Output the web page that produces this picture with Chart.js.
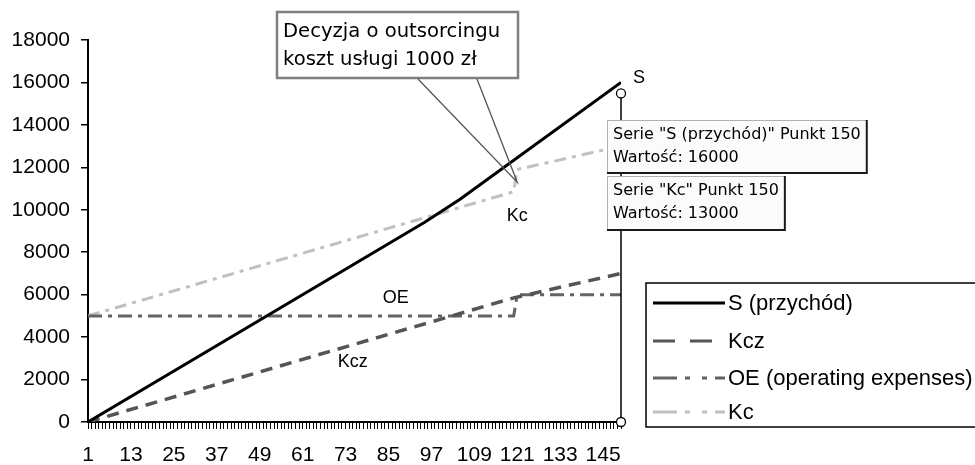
<!DOCTYPE html>
<html><head><meta charset="utf-8">
<script src="https://cdn.jsdelivr.net/npm/chart.js@4.4.1/dist/chart.umd.min.js"></script>
<style>html,body{margin:0;padding:0;background:#fff;} canvas{display:block;}</style>
</head><body>
<canvas id="c" width="975" height="465"></canvas>
<script>
// ---- data ----
const xTickLabels = [1, 13, 25, 37, 49, 61, 73, 85, 97, 109, 121, 133, 145];
const yTickLabels = [0, 2000, 4000, 6000, 8000, 10000, 12000, 14000, 16000, 18000];
const seriesNames = ['S (przychód)', 'Kcz', 'OE (operating expenses)', 'Kc'];
const sX   = [1, 95, 105, 150];
const sY   = [0, 9400, 10500, 16000];
const kczX = [1, 120, 150];
const kczY = [0, 5850, 7000];
const oeX  = [1, 120, 121, 150];
const oeY  = [5000, 5000, 6000, 6000];
const kcX  = [1, 120, 121, 150];
const kcY  = [5000, 10850, 11900, 13000];
const lastPoint = 150;
const tipS = {name: 'S (przychód)', value: 16000};
const tipKc = {name: 'Kc', value: 13000};
const calloutText = ['Decyzja o outsorcingu', 'koszt usługi 1000 zł'];

const pts = (xs, ys) => xs.map((x, i) => ({x: x, y: ys[i]}));
const FONT = "'Liberation Sans', Arial, sans-serif";
const TFONT = "'DejaVu Sans', Verdana, sans-serif";

const styles = [
  {color: '#000000', width: 3, dash: [], legendDash: []},
  {color: '#555555', width: 3.5, dash: [12, 8], legendDash: [22, 15]},
  {color: '#646464', width: 3, dash: [14, 6, 4, 6], legendDash: [24, 8, 5, 12, 5, 8]},
  {color: '#c0c0c0', width: 3, dash: [12, 6, 4, 6], legendDash: [24, 8, 5, 12, 5, 8]}
];
const seriesData = [pts(sX, sY), pts(kczX, kczY), pts(oeX, oeY), pts(kcX, kcY)];

const overlay = {
  id: 'overlay',
  afterDraw(chart) {
    const c = chart.ctx, xs = chart.scales.x, ys = chart.scales.y;
    const px = xs.getPixelForValue(lastPoint);
    c.save();
    // in-chart labels
    c.fillStyle = '#000';
    c.font = '18px ' + FONT;
    c.textAlign = 'center'; c.textBaseline = 'middle';
    c.fillText('S', px + 18, ys.getPixelForValue(16200));
    c.fillText('Kc', xs.getPixelForValue(121), ys.getPixelForValue(9700));
    c.fillText('Kcz', xs.getPixelForValue(75), ys.getPixelForValue(2820));
    c.fillText('OE', xs.getPixelForValue(87), ys.getPixelForValue(5850));

    // selection line + handles
    const yTop = ys.getPixelForValue(16000) + 11;
    const y0 = ys.getPixelForValue(0);
    c.strokeStyle = '#000'; c.lineWidth = 1.5; c.setLineDash([]);
    c.beginPath(); c.moveTo(px, yTop); c.lineTo(px, y0); c.stroke();
    [yTop, y0].forEach(yy => {
      c.beginPath(); c.arc(px, yy, 4.5, 0, Math.PI * 2);
      c.fillStyle = '#fff'; c.fill(); c.lineWidth = 1.3; c.stroke();
    });

    // tooltips
    const drawTip = (x, y, lines, h) => {
      c.font = '16px ' + TFONT;
      const w = Math.max(...lines.map(l => c.measureText(l).width)) + 12;
      c.fillStyle = '#fbfbfb'; c.fillRect(x, y, w, h);
      c.strokeStyle = '#b0b0b0'; c.lineWidth = 1;
      c.beginPath(); c.moveTo(x + 0.5, y + h); c.lineTo(x + 0.5, y + 0.5); c.lineTo(x + w, y + 0.5); c.stroke();
      c.strokeStyle = '#1a1a1a'; c.lineWidth = 2;
      c.beginPath(); c.moveTo(x + w, y); c.lineTo(x + w, y + h); c.lineTo(x, y + h); c.stroke();
      c.fillStyle = '#000'; c.textAlign = 'left'; c.textBaseline = 'middle';
      c.fillText(lines[0], x + 6, y + 15);
      c.fillText(lines[1], x + 6, y + 38);
    };
    const tx = px - 14;
    drawTip(tx, 120, ['Serie "' + tipS.name + '" Punkt ' + lastPoint, 'Wartość: ' + tipS.value], 53);
    drawTip(tx, 176, ['Serie "' + tipKc.name + '" Punkt ' + lastPoint, 'Wartość: ' + tipKc.value], 54);

    // callout
    const tipX = xs.getPixelForValue(121), tipY = ys.getPixelForValue(11300);
    c.fillStyle = '#fff';
    c.fillRect(277, 12, 241, 66);
    c.strokeStyle = '#7f7f7f'; c.lineWidth = 2.5;
    c.strokeRect(277, 12, 241, 66);
    c.strokeStyle = '#555'; c.lineWidth = 1.3;
    c.beginPath(); c.moveTo(418, 79); c.lineTo(tipX, tipY); c.lineTo(477, 79); c.stroke();
    c.fillStyle = '#000'; c.font = '19.6px ' + TFONT; c.textAlign = 'left'; c.textBaseline = 'alphabetic';
    c.fillText(calloutText[0], 283, 37);
    c.fillText(calloutText[1], 283, 65);

    // legend
    c.strokeStyle = '#000'; c.lineWidth = 1.5; c.setLineDash([]);
    c.strokeRect(646, 283, 340, 144);
    const rows = [303, 341, 378, 412];
    seriesNames.forEach((n, i) => {
      const st = styles[i];
      c.strokeStyle = st.color; c.lineWidth = 3; c.setLineDash(st.legendDash);
      c.beginPath(); c.moveTo(653, rows[i]); c.lineTo(725, rows[i]); c.stroke();
      c.setLineDash([]);
      c.fillStyle = '#000'; c.font = '22px ' + FONT; c.textAlign = 'left'; c.textBaseline = 'middle';
      c.fillText(n, 728, rows[i] + 1);
    });
    c.restore();
  }
};

new Chart(document.getElementById('c').getContext('2d'), {
  type: 'line',
  data: {
    datasets: seriesNames.map((n, i) => ({
      label: n, data: seriesData[i],
      borderColor: styles[i].color, borderWidth: styles[i].width, borderDash: styles[i].dash,
      pointRadius: 0, tension: 0, fill: false, borderCapStyle: 'butt'
    }))
  },
  options: {
    responsive: false, animation: false,
    layout: {padding: {left: 0, top: 40, right: 354, bottom: 0}},
    plugins: {legend: {display: false}, tooltip: {enabled: false}},
    scales: {
      x: {
        type: 'linear', min: 1, max: lastPoint,
        afterBuildTicks: s => { const t = []; for (let v = 1; v <= lastPoint; v++) t.push({value: v}); s.ticks = t; },
        afterFit: s => { s.height = 43; },
        grid: {drawOnChartArea: false, drawTicks: true, tickLength: 7, color: '#000', lineWidth: 1},
        border: {color: '#000', width: 2},
        ticks: {autoSkip: false, maxRotation: 0, minRotation: 0, padding: 14, color: '#000',
          font: {family: FONT, size: 21},
          callback: v => xTickLabels.includes(v) ? String(v) : ''}
      },
      y: {
        min: 0, max: 18000,
        afterBuildTicks: s => { s.ticks = yTickLabels.map(v => ({value: v})); },
        afterFit: s => { s.width = 88; },
        grid: {drawOnChartArea: false, drawTicks: true, tickLength: 7, color: '#000', lineWidth: 1.5},
        border: {color: '#000', width: 2},
        ticks: {padding: 11, color: '#000', font: {family: FONT, size: 21},
          callback: v => String(v)}
      }
    }
  },
  plugins: [overlay]
});
</script>
</body></html>
